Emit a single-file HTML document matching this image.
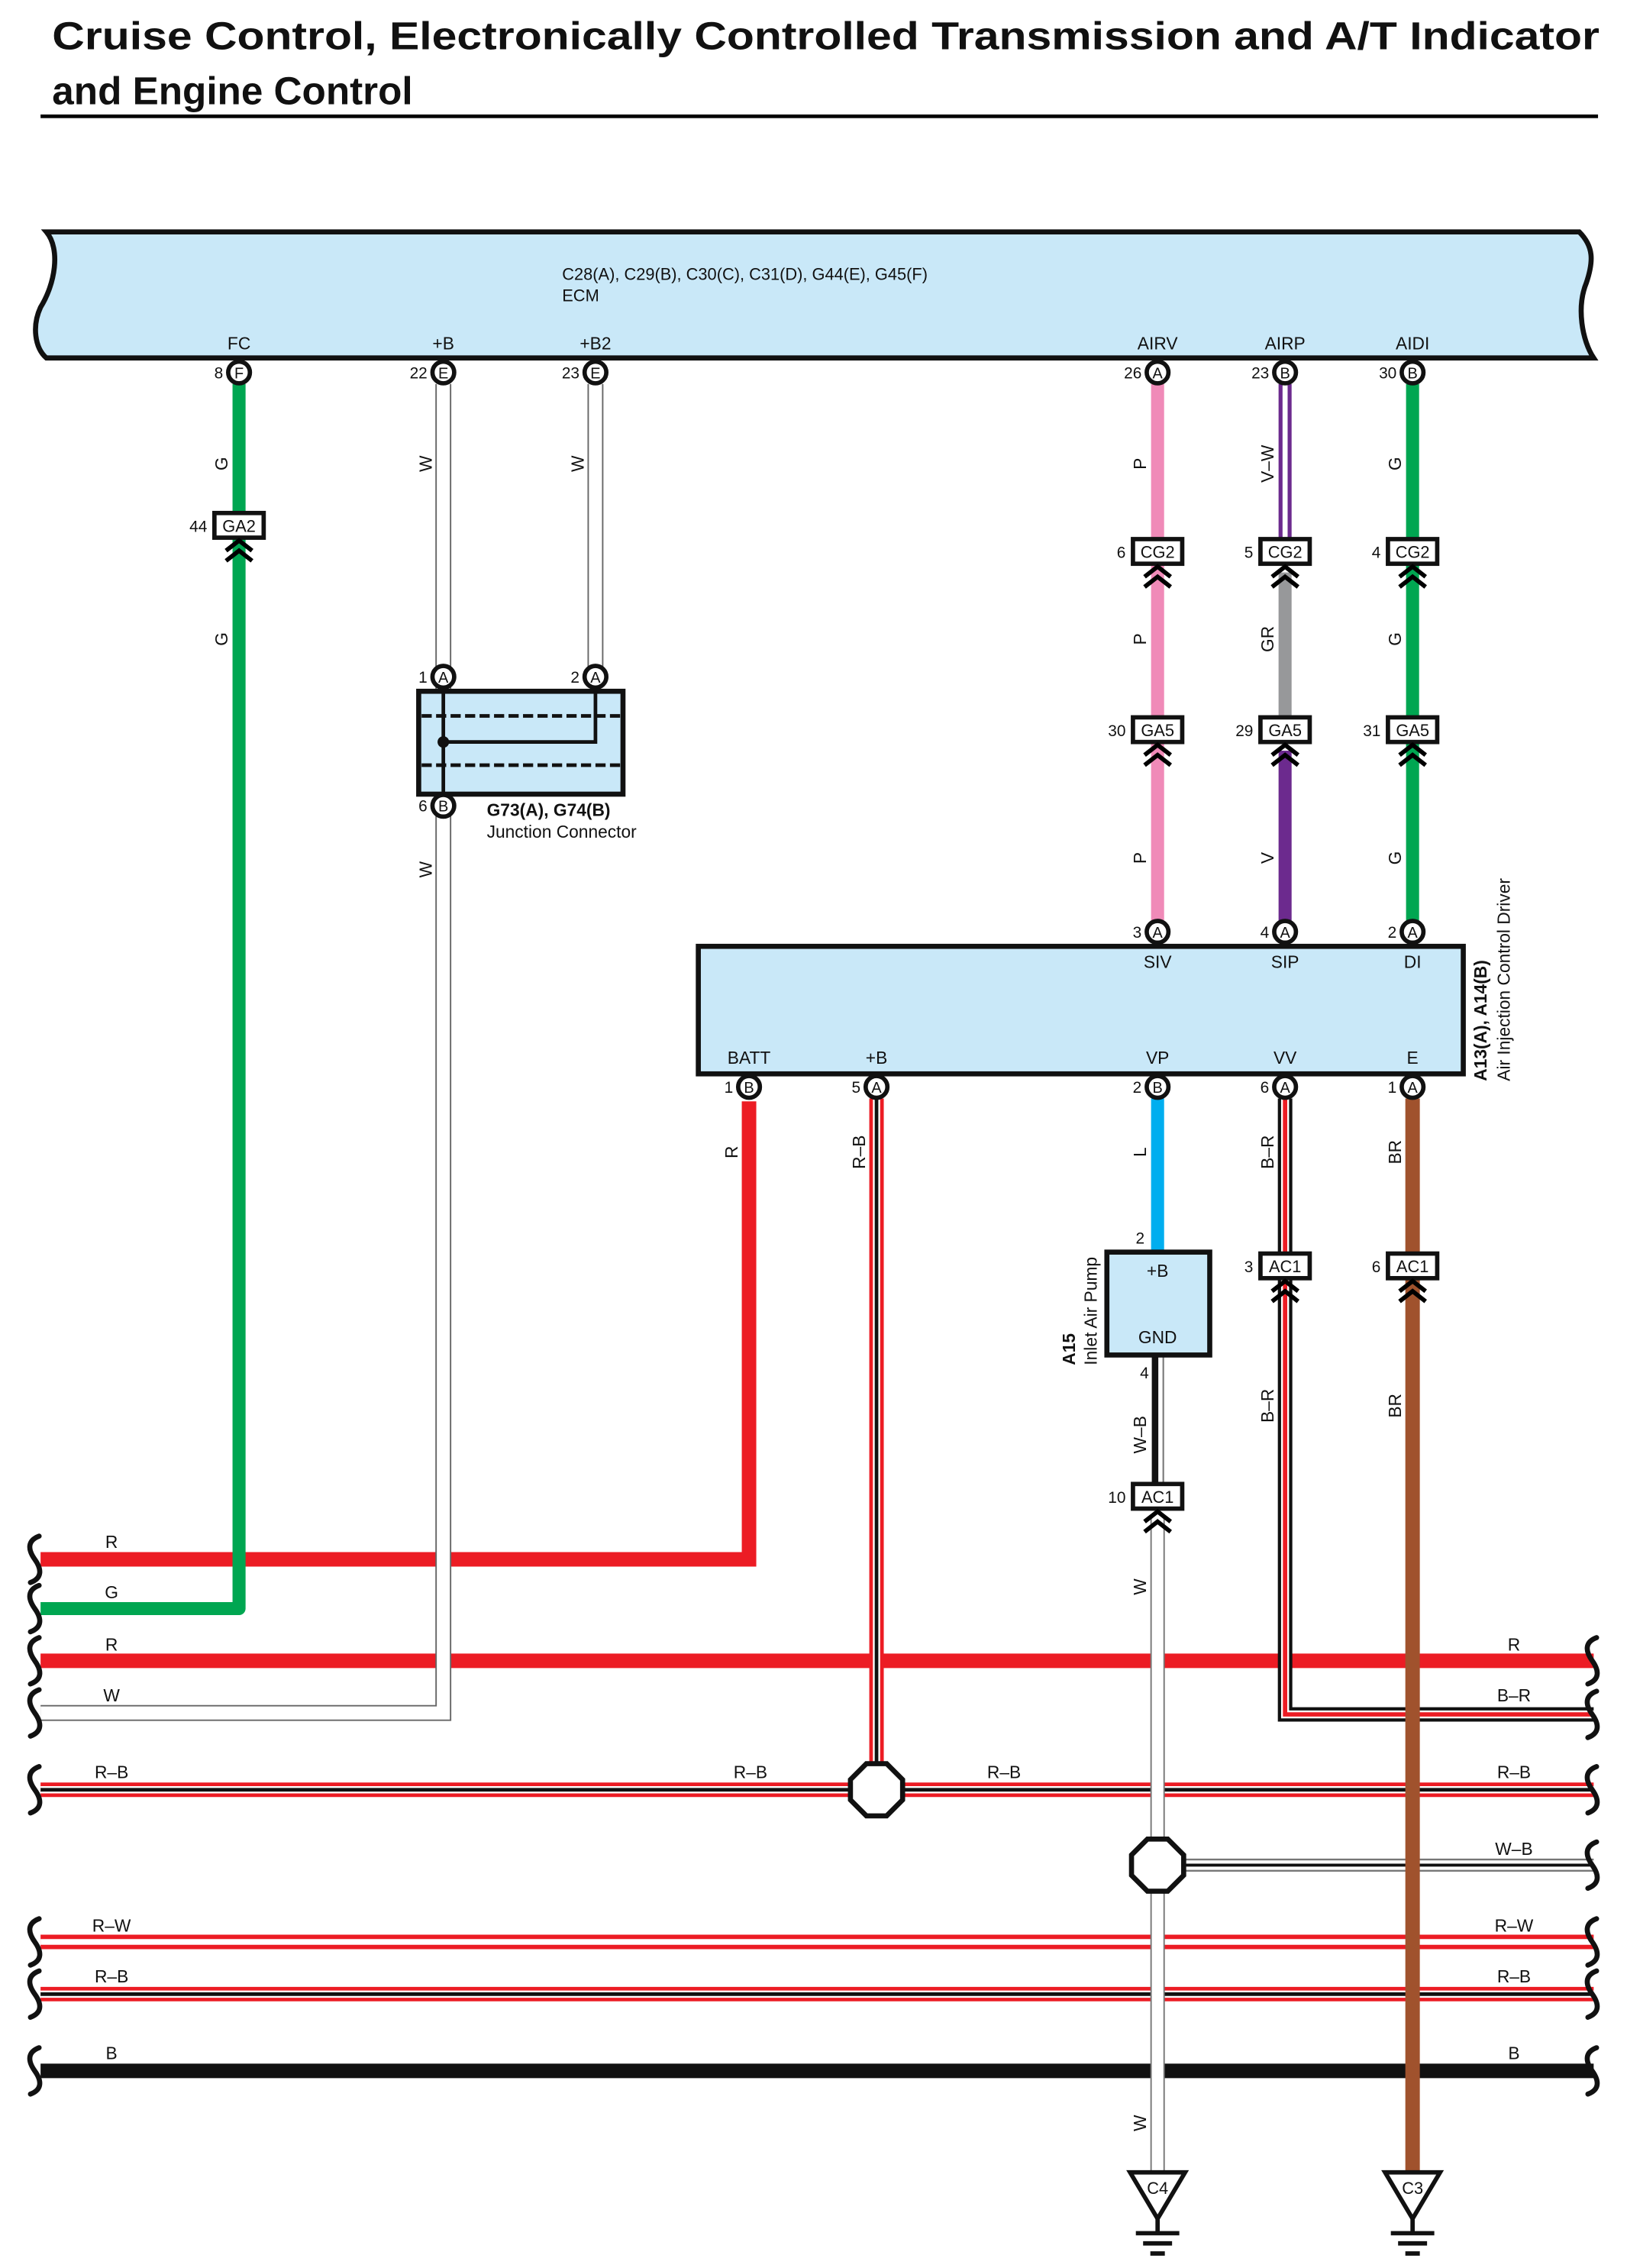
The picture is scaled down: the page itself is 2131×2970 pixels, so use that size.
<!DOCTYPE html>
<html><head><meta charset="utf-8"><style>
html,body{margin:0;padding:0;background:#fff}
svg{display:block}
text{font-family:"Liberation Sans",Arial,sans-serif;fill:#111}
</style></head><body>
<svg width="2131" height="2970" viewBox="0 0 1123 1565" preserveAspectRatio="none" xmlns="http://www.w3.org/2000/svg">
<defs>
<g id="chev"><polyline points="-9,8 0,1 9,8" fill="none" stroke="#000" stroke-width="3"/><polyline points="-9,15 0,8 9,15" fill="none" stroke="#000" stroke-width="3"/></g>
<path id="brk" d="M0,-16 c-8,3 -8,9 -3,16 c5,7 5,13 -3,16" fill="none" stroke="#111" stroke-width="3.5" stroke-linecap="round"/>
</defs>
<!-- title -->
<text x="36" y="34" font-size="27" font-weight="bold" textLength="1068" lengthAdjust="spacingAndGlyphs">Cruise Control, Electronically Controlled Transmission and A/T Indicator</text>
<text x="36" y="72" font-size="27" font-weight="bold">and Engine Control</text>
<rect x="28" y="79" width="1075" height="2.5" fill="#000"/>

<!-- ECM -->
<path d="M32,160 L1090,160 C1100,170 1100,180 1095,195 C1088,212 1092,235 1100,247 L32,247 C24,240 22,225 28,212 C38,196 42,172 32,160 Z" fill="#c9e8f8" stroke="#111" stroke-width="3.5"/>
<text x="388" y="193" font-size="11.5">C28(A), C29(B), C30(C), C31(D), G44(E), G45(F)</text>
<text x="388" y="208" font-size="11.5">ECM</text>
<g font-size="12" text-anchor="middle">
<text x="165" y="241">FC</text><text x="306" y="241">+B</text><text x="411" y="241">+B2</text>
<text x="799" y="241">AIRV</text><text x="887" y="241">AIRP</text><text x="975" y="241">AIDI</text>
</g>

<!-- horizontal bus wires -->
<g fill="none">
<path d="M28,1076 H517 V760" stroke="#ec1c24" stroke-width="10"/>
<path d="M28,1146 H1100" stroke="#ec1c24" stroke-width="10"/>
<path d="M28,1235 H1100" stroke="#ec1c24" stroke-width="10"/>
<path d="M28,1235 H1100" stroke="#fff" stroke-width="5"/>
<path d="M28,1235 H1100" stroke="#111" stroke-width="2.5"/>
<path d="M28,1340 H1100" stroke="#ec1c24" stroke-width="10"/>
<path d="M28,1340 H1100" stroke="#fff" stroke-width="4"/>
<path d="M28,1376 H1100" stroke="#ec1c24" stroke-width="10"/>
<path d="M28,1376 H1100" stroke="#fff" stroke-width="5"/>
<path d="M28,1376 H1100" stroke="#111" stroke-width="2.5"/>
<path d="M28,1429 H1100" stroke="#111" stroke-width="10"/>
<path d="M799,1287 H1100" stroke="#777" stroke-width="9"/>
<path d="M799,1287 H1100" stroke="#fff" stroke-width="6.5"/>
<path d="M799,1287 H1100" stroke="#111" stroke-width="2"/>
<!-- green FC -->
<path d="M165,265 V1110 H28" stroke="#00a651" stroke-width="9" stroke-linejoin="round"/>
<!-- W +B -->
<path d="M306,265 V1182 H28" stroke="#666" stroke-width="11"/>
<path d="M306,265 V1182 H28" stroke="#fff" stroke-width="9"/>
<path d="M411,265 V470" stroke="#666" stroke-width="11"/>
<path d="M411,265 V470" stroke="#fff" stroke-width="9"/>
<!-- AIRV pink -->
<path d="M799,265 V640" stroke="#f08ab8" stroke-width="9"/>
<!-- AIRP -->
<path d="M887,265 V380" stroke="#6c2a8e" stroke-width="9"/>
<path d="M887,265 V380" stroke="#fff" stroke-width="3.5"/>
<path d="M887,395 V503" stroke="#97989a" stroke-width="9"/>
<path d="M887,518 V640" stroke="#6c2a8e" stroke-width="9"/>
<!-- AIDI -->
<path d="M975,265 V640" stroke="#00a651" stroke-width="9"/>
<!-- +B R-B -->
<path d="M605,758 V1235" stroke="#ec1c24" stroke-width="10"/>
<path d="M605,758 V1235" stroke="#fff" stroke-width="5"/>
<path d="M605,758 V1235" stroke="#111" stroke-width="2.5"/>
<!-- VP blue -->
<path d="M799,758 V864" stroke="#00aeef" stroke-width="9"/>
<!-- W-B -->
<path d="M799,935 V1032" stroke="#111" stroke-width="8"/>
<path d="M801,935 V1032" stroke="#fff" stroke-width="3"/>
<path d="M803,935 V1032" stroke="#777" stroke-width="1"/>
<!-- W to ground C4 -->
<path d="M799,1048 V1500" stroke="#777" stroke-width="10"/>
<path d="M799,1048 V1500" stroke="#fff" stroke-width="8"/>
<!-- VV B-R -->
<path d="M887,758 V1183 H1100" stroke="#111" stroke-width="10"/>
<path d="M887,758 V1183 H1100" stroke="#fff" stroke-width="5.5"/>
<path d="M887,758 V1183 H1100" stroke="#ec1c24" stroke-width="3"/>
<!-- E brown -->
<path d="M975,758 V1500" stroke="#a0522d" stroke-width="10"/>
</g>

<!-- break marks -->
<g>
<use href="#brk" x="27" y="1076"/><use href="#brk" x="27" y="1110"/><use href="#brk" x="27" y="1146"/><use href="#brk" x="27" y="1182"/>
<use href="#brk" x="27" y="1235"/><use href="#brk" x="27" y="1340"/><use href="#brk" x="27" y="1376"/><use href="#brk" x="27" y="1429"/>
<use href="#brk" x="1102" y="1146"/><use href="#brk" x="1102" y="1183"/><use href="#brk" x="1102" y="1235"/><use href="#brk" x="1102" y="1287"/>
<use href="#brk" x="1102" y="1340"/><use href="#brk" x="1102" y="1376"/><use href="#brk" x="1102" y="1429"/>
</g>

<!-- horizontal labels -->
<g font-size="12" text-anchor="middle">
<text x="77" y="1068">R</text><text x="77" y="1103">G</text><text x="77" y="1139">R</text><text x="77" y="1174">W</text>
<text x="77" y="1227">R–B</text><text x="518" y="1227">R–B</text><text x="693" y="1227">R–B</text><text x="1045" y="1227">R–B</text>
<text x="1045" y="1139">R</text><text x="1045" y="1174">B–R</text><text x="1045" y="1280">W–B</text>
<text x="77" y="1333">R–W</text><text x="1045" y="1333">R–W</text>
<text x="77" y="1368">R–B</text><text x="1045" y="1368">R–B</text>
<text x="77" y="1421">B</text><text x="1045" y="1421">B</text>
</g>

<!-- vertical wire labels -->
<g font-size="12" text-anchor="middle">
<text transform="translate(157,320) rotate(-90)">G</text>
<text transform="translate(157,441) rotate(-90)">G</text>
<text transform="translate(298,320) rotate(-90)">W</text>
<text transform="translate(403,320) rotate(-90)">W</text>
<text transform="translate(298,600) rotate(-90)">W</text>
<text transform="translate(791,320) rotate(-90)">P</text>
<text transform="translate(791,441) rotate(-90)">P</text>
<text transform="translate(791,592) rotate(-90)">P</text>
<text transform="translate(879,320) rotate(-90)">V–W</text>
<text transform="translate(879,441) rotate(-90)">GR</text>
<text transform="translate(879,592) rotate(-90)">V</text>
<text transform="translate(967,320) rotate(-90)">G</text>
<text transform="translate(967,441) rotate(-90)">G</text>
<text transform="translate(967,592) rotate(-90)">G</text>
<text transform="translate(509,795) rotate(-90)">R</text>
<text transform="translate(597,795) rotate(-90)">R–B</text>
<text transform="translate(791,795) rotate(-90)">L</text>
<text transform="translate(879,795) rotate(-90)">B–R</text>
<text transform="translate(967,795) rotate(-90)">BR</text>
<text transform="translate(791,990) rotate(-90)">W–B</text>
<text transform="translate(879,970) rotate(-90)">B–R</text>
<text transform="translate(967,970) rotate(-90)">BR</text>
<text transform="translate(791,1095) rotate(-90)">W</text>
<text transform="translate(791,1465) rotate(-90)">W</text>
</g>

<!-- Junction connector -->
<rect x="289" y="477" width="141" height="71" fill="#c9e8f8" stroke="#111" stroke-width="3.5"/>
<line x1="291" y1="494" x2="428" y2="494" stroke="#111" stroke-width="2.5" stroke-dasharray="7,3"/>
<line x1="291" y1="528" x2="428" y2="528" stroke="#111" stroke-width="2.5" stroke-dasharray="7,3"/>
<path d="M306,477 V548 M306,512 H411 V477" fill="none" stroke="#111" stroke-width="2.5"/>
<circle cx="306" cy="512" r="4" fill="#111"/>
<text x="336" y="563" font-size="12" font-weight="bold">G73(A), G74(B)</text>
<text x="336" y="578" font-size="12">Junction Connector</text>

<!-- A13 box -->
<rect x="482" y="653" width="528" height="88" fill="#c9e8f8" stroke="#111" stroke-width="3.5"/>
<g font-size="12" text-anchor="middle">
<text x="799" y="668">SIV</text><text x="887" y="668">SIP</text><text x="975" y="668">DI</text>
<text x="517" y="734">BATT</text><text x="605" y="734">+B</text><text x="799" y="734">VP</text><text x="887" y="734">VV</text><text x="975" y="734">E</text>
</g>
<text transform="translate(1026,746) rotate(-90)" font-size="12" font-weight="bold">A13(A), A14(B)</text>
<text transform="translate(1042,746) rotate(-90)" font-size="12">Air Injection Control Driver</text>

<!-- A15 box -->
<rect x="764" y="864" width="71" height="71" fill="#c9e8f8" stroke="#111" stroke-width="3.5"/>
<text x="799" y="881" font-size="12" text-anchor="middle">+B</text>
<text x="799" y="927" font-size="12" text-anchor="middle">GND</text>
<text x="790" y="858" font-size="11" text-anchor="end">2</text>
<text x="793" y="951" font-size="11" text-anchor="end">4</text>
<text transform="translate(742,942) rotate(-90)" font-size="12" font-weight="bold">A15</text>
<text transform="translate(757,942) rotate(-90)" font-size="12">Inlet Air Pump</text>

<!-- splices -->
<polygon points="598,1217 612,1217 623,1228 623,1242 612,1253 598,1253 587,1242 587,1228" fill="#fff" stroke="#111" stroke-width="3.5"/>
<polygon points="792,1269 806,1269 817,1280 817,1294 806,1305 792,1305 781,1294 781,1280" fill="#fff" stroke="#111" stroke-width="3.5"/>

<!-- pins -->
<g stroke="#111" stroke-width="3" fill="#fff">
<circle cx="165" cy="257" r="7.5"/><circle cx="306" cy="257" r="7.5"/><circle cx="411" cy="257" r="7.5"/>
<circle cx="799" cy="257" r="7.5"/><circle cx="887" cy="257" r="7.5"/><circle cx="975" cy="257" r="7.5"/>
<circle cx="306" cy="467" r="7.5"/><circle cx="411" cy="467" r="7.5"/><circle cx="306" cy="556" r="7.5"/>
<circle cx="799" cy="643" r="7.5"/><circle cx="887" cy="643" r="7.5"/><circle cx="975" cy="643" r="7.5"/>
<circle cx="517" cy="750" r="7.5"/><circle cx="605" cy="750" r="7.5"/><circle cx="799" cy="750" r="7.5"/><circle cx="887" cy="750" r="7.5"/><circle cx="975" cy="750" r="7.5"/>
</g>
<g font-size="10.5" text-anchor="middle">
<text x="165" y="261">F</text><text x="306" y="261">E</text><text x="411" y="261">E</text>
<text x="799" y="261">A</text><text x="887" y="261">B</text><text x="975" y="261">B</text>
<text x="306" y="471">A</text><text x="411" y="471">A</text><text x="306" y="560">B</text>
<text x="799" y="647">A</text><text x="887" y="647">A</text><text x="975" y="647">A</text>
<text x="517" y="754">B</text><text x="605" y="754">A</text><text x="799" y="754">B</text><text x="887" y="754">A</text><text x="975" y="754">A</text>
</g>
<g font-size="11" text-anchor="end">
<text x="154" y="261">8</text><text x="295" y="261">22</text><text x="400" y="261">23</text>
<text x="788" y="261">26</text><text x="876" y="261">23</text><text x="964" y="261">30</text>
<text x="295" y="471">1</text><text x="400" y="471">2</text><text x="295" y="560">6</text>
<text x="788" y="647">3</text><text x="876" y="647">4</text><text x="964" y="647">2</text>
<text x="506" y="754">1</text><text x="594" y="754">5</text><text x="788" y="754">2</text><text x="876" y="754">6</text><text x="964" y="754">1</text>
</g>

<!-- inline connectors -->
<g stroke="#111" stroke-width="3" fill="#fff">
<rect x="148" y="354" width="34" height="17"/>
<rect x="782" y="372" width="34" height="17"/><rect x="870" y="372" width="34" height="17"/><rect x="958" y="372" width="34" height="17"/>
<rect x="782" y="495" width="34" height="17"/><rect x="870" y="495" width="34" height="17"/><rect x="958" y="495" width="34" height="17"/>
<rect x="870" y="865" width="34" height="17"/><rect x="958" y="865" width="34" height="17"/>
<rect x="782" y="1024" width="34" height="17"/>
</g>
<g font-size="11.5" text-anchor="middle">
<text x="165" y="367">GA2</text>
<text x="799" y="385">CG2</text><text x="887" y="385">CG2</text><text x="975" y="385">CG2</text>
<text x="799" y="508">GA5</text><text x="887" y="508">GA5</text><text x="975" y="508">GA5</text>
<text x="887" y="878">AC1</text><text x="975" y="878">AC1</text>
<text x="799" y="1037">AC1</text>
</g>
<g font-size="11" text-anchor="end">
<text x="143" y="367">44</text>
<text x="777" y="385">6</text><text x="865" y="385">5</text><text x="953" y="385">4</text>
<text x="777" y="508">30</text><text x="865" y="508">29</text><text x="953" y="508">31</text>
<text x="865" y="878">3</text><text x="953" y="878">6</text>
<text x="777" y="1037">10</text>
</g>
<g>
<use href="#chev" x="165" y="372"/>
<use href="#chev" x="799" y="390"/><use href="#chev" x="887" y="390"/><use href="#chev" x="975" y="390"/>
<use href="#chev" x="799" y="513"/><use href="#chev" x="887" y="513"/><use href="#chev" x="975" y="513"/>
<use href="#chev" x="887" y="883"/><use href="#chev" x="975" y="883"/>
<use href="#chev" x="799" y="1042"/>
</g>

<!-- grounds -->
<g stroke="#111" stroke-width="3" fill="#fff">
<polygon points="780,1499 818,1499 799,1531"/>
<polygon points="956,1499 994,1499 975,1531"/>
<path d="M799,1531 V1540 M784,1541 H814 M789,1548 H809 M794,1555 H804 M975,1531 V1540 M960,1541 H990 M965,1548 H985 M970,1555 H980" fill="none"/>
</g>
<text x="799" y="1514" font-size="11.5" text-anchor="middle">C4</text>
<text x="975" y="1514" font-size="11.5" text-anchor="middle">C3</text>
</svg>
</body></html>
